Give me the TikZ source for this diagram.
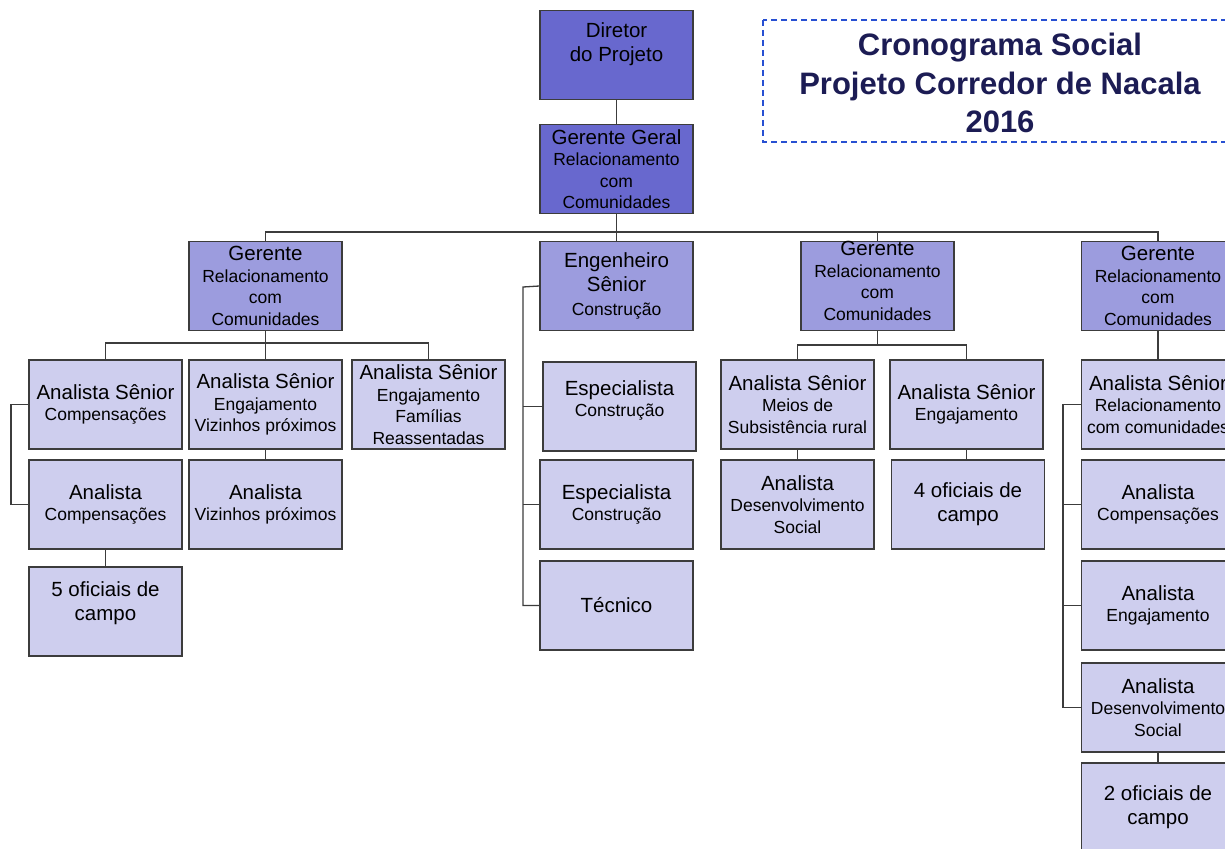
\documentclass[tikz,border=0pt]{standalone}
\usepackage{fontspec}
\setmainfont{Liberation Sans}
\usepackage{xcolor}
\usetikzlibrary{positioning,calc}

\definecolor{darkbox}{RGB}{104,104,206}
\definecolor{midbox}{RGB}{156,156,222}
\definecolor{lightbox}{RGB}{206,206,238}
\definecolor{titlecol}{RGB}{28,28,84}
\definecolor{dashcol}{RGB}{40,80,210}
\definecolor{linecol}{RGB}{60,60,60}

\newcommand{\bigtx}{\fontsize{20.5}{24}\selectfont}
\newcommand{\smalltx}{\fontsize{17.5}{21.5}\selectfont}

\tikzset{
  orgbox/.style={draw=linecol, line width=1.3pt, minimum width=153pt, minimum height=89pt,
    inner sep=0pt, align=center, text=black, font=\smalltx},
  dbox/.style={orgbox, fill=darkbox},
  mbox/.style={orgbox, fill=midbox},
  lbox/.style={orgbox, fill=lightbox},
  conn/.style={draw=linecol, line width=1.3pt}
}

\begin{document}
\begin{tikzpicture}[x=1pt, y=-1pt]
\useasboundingbox (0,0) rectangle (1225,848);
\clip (0,0) rectangle (1225,848);
\fill[white] (0,0) rectangle (1225,848);

% Title
\draw[dashcol, line width=1.3pt, dash pattern=on 6pt off 4pt] (763,20) rectangle (1238,142);
\node[font=\fontsize{31}{38.5}\selectfont\bfseries, text=titlecol, align=center] (title) at (1000,83)
  {Cronograma Social\\Projeto Corredor de Nacala\\2016};

% Top level
\node[dbox, font=\bigtx, text depth=26pt] (dir) at (616.5,55) {Diretor\\do Projeto};
\node[dbox] (gg) at (616.5,169) {\bigtx Gerente Geral\\Relacionamento\\com\\Comunidades};

% Second level
\node[mbox] (ger1) at (265.5,286) {\bigtx Gerente\\Relacionamento\\com\\Comunidades};
\node[mbox, font=\bigtx] (eng) at (616.5,286) {Engenheiro\\Sênior\\\smalltx Construção};
\node[mbox, text depth=10pt] (ger3) at (877.5,286) {\bigtx Gerente\\Relacionamento\\com\\Comunidades};
\node[mbox] (ger4) at (1158,286) {\bigtx Gerente\\Relacionamento\\com\\Comunidades};

% Left branch
\node[lbox] (as1) at (105.5,404.5) {\bigtx Analista Sênior\\Compensações};
\node[lbox] (as2) at (265.5,404.5) {\bigtx Analista Sênior\\Engajamento\\Vizinhos próximos};
\node[lbox] (as3) at (428.5,404.5) {\bigtx Analista Sênior\\Engajamento\\Famílias\\Reassentadas};
\node[lbox] (an1) at (105.5,504.5) {\bigtx Analista\\Compensações};
\node[lbox] (an2) at (265.5,504.5) {\bigtx Analista\\Vizinhos próximos};
\node[lbox, font=\bigtx, text depth=20pt] (of5) at (105.5,611.5) {5 oficiais de\\campo};

% Construction branch
\node[lbox, text depth=16pt] (esp1) at (619.5,406.5) {\bigtx Especialista\\Construção};
\node[lbox] (esp2) at (616.5,504.5) {\bigtx Especialista\\Construção};
\node[lbox, font=\bigtx] (tec) at (616.5,605.5) {Técnico};

% Third branch
\node[lbox] (as4) at (797.5,404.5) {\bigtx Analista Sênior\\Meios de\\Subsistência rural};
\node[lbox] (as5) at (966.5,404.5) {\bigtx Analista Sênior\\Engajamento};
\node[lbox] (an3) at (797.5,504.5) {\bigtx Analista\\Desenvolvimento\\Social};
\node[lbox, font=\bigtx] (of4) at (968,504.5) {4 oficiais de\\campo};

% Right branch
\node[lbox] (as6) at (1158,404.5) {\bigtx Analista Sênior\\Relacionamento\\com comunidades};
\node[lbox] (an4) at (1158,504.5) {\bigtx Analista\\Compensações};
\node[lbox] (an5) at (1158,605.5) {\bigtx Analista\\Engajamento};
\node[lbox] (an6) at (1158,707.5) {\bigtx Analista\\Desenvolvimento\\Social};
\node[lbox, font=\bigtx] (of2) at (1158,807.5) {2 oficiais de\\campo};

% Connectors
\coordinate (bus) at (616.5,232);
\coordinate (c1) at (265.5,343);
\coordinate (c3) at (877.5,345);
\coordinate (lbus) at (11,404.5);
\coordinate (ebus) at (523,287);
\coordinate (rbus) at (1063,404.5);

\draw[conn] (dir.south) -- (gg.north);
\draw[conn] (gg.south) -- (eng.north);
\draw[conn] (ger1.north) |- (bus) -| (ger4.north);
\draw[conn] (ger3.north) -- (ger3.north |- bus);

\draw[conn] (ger1.south) -- (as2.north);
\draw[conn] (as1.north) |- (c1) -| (as3.north);
\draw[conn] (as1.west) -- (lbus) |- (an1.west);
\draw[conn] (as2.south) -- (an2.north);
\draw[conn] (an1.south) -- (of5.north);

\draw[conn] (eng.west) -- (ebus) |- (tec.west);
\draw[conn] (esp1.west) -- (esp1.west -| ebus);
\draw[conn] (esp2.west) -- (esp2.west -| ebus);

\draw[conn] (ger3.south) -- (c3);
\draw[conn] (as4.north) |- (c3) -| (as5.north);
\draw[conn] (as4.south) -- (an3.north);
\draw[conn] (as5.south) -- (as5.south |- of4.north);

\draw[conn] (ger4.south) -- (as6.north);
\draw[conn] (as6.west) -- (rbus) |- (an6.west);
\draw[conn] (an4.west) -- (an4.west -| rbus);
\draw[conn] (an5.west) -- (an5.west -| rbus);
\draw[conn] (an6.south) -- (of2.north);

\end{tikzpicture}
\end{document}
